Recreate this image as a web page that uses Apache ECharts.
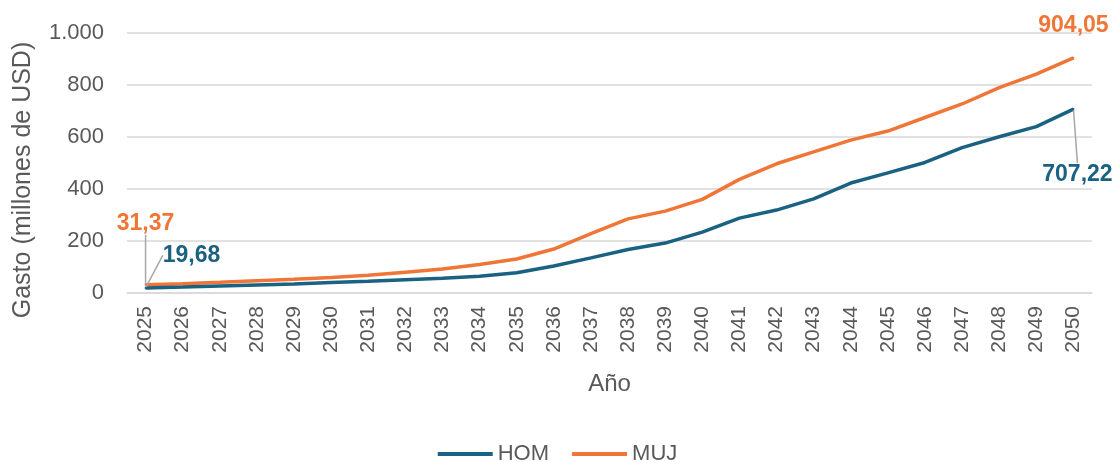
<!DOCTYPE html>
<html>
<head>
<meta charset="utf-8">
<script src="https://cdn.jsdelivr.net/npm/echarts@6/dist/echarts.min.js"></script>
<style>
  html, body { margin: 0; padding: 0; background: #fff; }
  #chart { width: 1115px; height: 462px; }
</style>
</head>
<body>
<div id="chart"></div>
<script>
var years = ['2025','2026','2027','2028','2029','2030','2031','2032','2033','2034','2035','2036','2037',
             '2038','2039','2040','2041','2042','2043','2044','2045','2046','2047','2048','2049','2050'];
var hom = [19.68, 23, 27, 31, 35, 40, 45, 51, 57, 64, 78, 104, 135, 167, 192, 234, 288, 319, 362, 423, 462, 502, 559, 601, 640, 707.22];
var muj = [31.37, 36, 41, 47, 53, 60, 68, 80, 92, 110, 131, 169, 228, 285, 315, 360, 437, 497, 543, 588, 623, 675, 727, 790, 842, 904.05];
var yTicks = [0, 200, 400, 600, 800, 1000];

var font = 'Liberation Sans, Arial, sans-serif';
var colHom = '#1a6182';
var colMuj = '#ef7637';

function fmt(v) {
  return v.toFixed(2).replace('.', ',');
}

// etiquetas solo en el primer y ultimo punto
function buildData(arr, color, pos, hideLastLine) {
  return arr.map(function (v, i) {
    var ends = (i === 0 || i === arr.length - 1);
    return {
      value: v,
      label: {
        show: ends,
        position: (i === 0) ? 'top' : pos,
        formatter: function (p) { return fmt(p.value); },
        color: color,
        fontWeight: 'bold',
        fontSize: 23,
        fontFamily: font
      },
      labelLine: { show: ends && !(hideLastLine && i > 0), lineStyle: { color: '#a6a6a6', width: 1.5 } }
    };
  });
}

var myChart = echarts.init(document.getElementById('chart'));
var option = {
  animation: false,
  grid: { left: 127, right: 23, top: 33, bottom: 169, containLabel: false },
  legend: {
    top: 443,
    left: 'center',
    padding: 0,
    itemWidth: 55,
    itemHeight: 4,
    itemGap: 23,
    icon: 'rect',
    textStyle: { color: '#595959', fontSize: 22, fontFamily: font },
    data: ['HOM', 'MUJ']
  },
  xAxis: {
    type: 'category',
    data: years,
    boundaryGap: true,
    name: 'Año',
    nameLocation: 'middle',
    nameGap: 79,
    nameTextStyle: { color: '#595959', fontSize: 24, fontFamily: font },
    axisLine: { lineStyle: { color: '#d9d9d9', width: 1.5 } },
    axisTick: { show: false },
    axisLabel: { rotate: 90, color: '#595959', fontSize: 21, fontFamily: font, margin: 13, interval: 0 }
  },
  yAxis: {
    type: 'value',
    min: yTicks[0],
    max: yTicks[yTicks.length - 1],
    interval: 200,
    name: 'Gasto (millones de USD)',
    nameLocation: 'middle',
    nameGap: 91,
    nameTextStyle: { color: '#595959', fontSize: 25, fontFamily: font, padding: [0, 34, 0, 0] },
    axisLine: { show: false },
    axisTick: { show: false },
    splitLine: { lineStyle: { color: '#d9d9d9', width: 1.5 } },
    axisLabel: {
      color: '#595959', fontSize: 22, fontFamily: font, margin: 23,
      formatter: function (v) { return String(v).replace(/\B(?=(\d{3})+(?!\d))/g, '.'); }
    }
  },
  series: [
    {
      name: 'HOM',
      type: 'line',
      data: buildData(hom, colHom, 'bottom', false),
      showSymbol: true,
      symbol: 'circle',
      symbolSize: 2,
      itemStyle: { color: colHom },
      lineStyle: { color: colHom, width: 3.5 },
      labelLayout: function (p) {
        if (p.dataIndex === 0) return { dx: 46, dy: -15 };
        return { dx: 4, dy: 48 };
      },
      z: 3
    },
    {
      name: 'MUJ',
      type: 'line',
      data: buildData(muj, colMuj, 'top', true),
      showSymbol: true,
      symbol: 'circle',
      symbolSize: 2,
      itemStyle: { color: colMuj },
      lineStyle: { color: colMuj, width: 3.5 },
      labelLayout: function (p) {
        if (p.dataIndex === 0) return { dx: 0, dy: -44 };
        return { dx: 0, dy: -15 };
      },
      z: 2
    }
  ]
};
myChart.setOption(option);
</script>
</body>
</html>
